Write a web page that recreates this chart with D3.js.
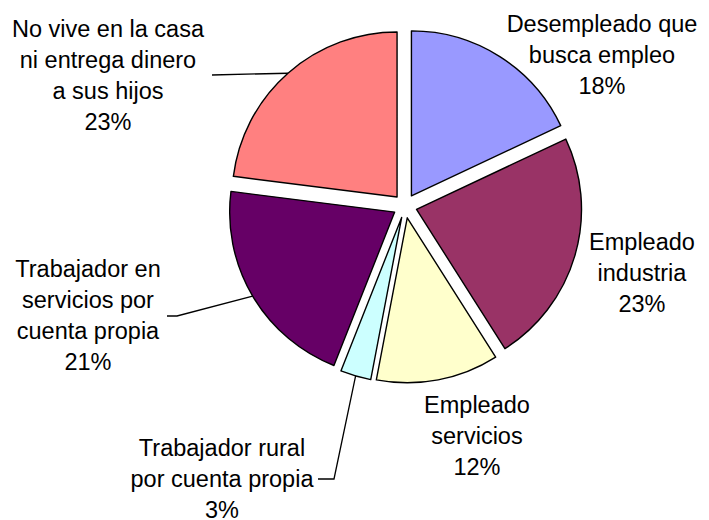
<!DOCTYPE html>
<html>
<head>
<meta charset="utf-8">
<script src="https://cdn.jsdelivr.net/npm/d3@7"></script>
<style>
	html, body { margin: 0; padding: 0; background: #fff; }
	svg { display: block; }
	text { font-family: Arial, "Liberation Sans", sans-serif; fill: #000; }
</style>
</head>
<body>
<script>
// slice data, clockwise from 12 o'clock
const categories = [
	'Desempleado que busca empleo',
	'Empleado industria',
	'Empleado servicios',
	'Trabajador rural por cuenta propia',
	'Trabajador en servicios por cuenta propia',
	'No vive en la casa ni entrega dinero a sus hijos'
];
const values = [18, 23, 12, 3, 21, 23];
const labelLines = [
	['Desempleado que', 'busca empleo'],
	['Empleado', 'industria'],
	['Empleado', 'servicios'],
	['Trabajador rural', 'por cuenta propia'],
	['Trabajador en', 'servicios por', 'cuenta propia'],
	['No vive en la casa', 'ni entrega dinero', 'a sus hijos']
];
const colors = ['#9999FF', '#993366', '#FFFFCC', '#CCFFFF', '#660066', '#FF8080'];

// label placement (x centre, first baseline) and leader elbows
const layout = [
	{ x: 602, y: 32 },
	{ x: 642, y: 250 },
	{ x: 477, y: 413 },
	{ x: 222, y: 456, elbow: [334, 479], end: [318, 479] },
	{ x: 88, y: 277, elbow: [177, 316], end: [167, 316] },
	{ x: 108, y: 37, elbow: [212, 75], end: [212, 75] }
];

const width = 709, height = 520;
const cx = 405, cy = 206, radius = 165, explode = 12;
const lineHeight = 31;

const svg = d3.select('body').append('svg')
	.attr('width', width)
	.attr('height', height);

const pie = d3.pie().sort(null).value(d => d)(values);
const arc = d3.arc().innerRadius(0).outerRadius(radius);

const mid = d => (d.startAngle + d.endAngle) / 2;
const offset = d => [explode * Math.sin(mid(d)), -explode * Math.cos(mid(d))];

const g = svg.append('g').attr('transform', `translate(${cx},${cy})`);

g.selectAll('path.slice')
	.data(pie)
	.enter().append('path')
	.attr('class', 'slice')
	.attr('transform', d => `translate(${offset(d)})`)
	.attr('d', arc)
	.style('fill', (d, i) => colors[i])
	.style('stroke', '#000')
	.style('stroke-width', 1.4)
	.style('stroke-linejoin', 'round');

// leader lines
pie.forEach((d, i) => {
	let l = layout[i];
	if (!l.elbow)
		return;
	let o = offset(d);
	let sx = cx + o[0] + radius * Math.sin(mid(d));
	let sy = cy + o[1] - radius * Math.cos(mid(d));
	svg.append('polyline')
		.attr('points', [[sx, sy], l.elbow, l.end].map(p => p.join(',')).join(' '))
		.style('fill', 'none')
		.style('stroke', '#000')
		.style('stroke-width', 1.3);
});

// labels
pie.forEach((d, i) => {
	let l = layout[i];
	let lines = labelLines[i].concat([values[i] + '%']);
	let t = svg.append('text')
		.attr('text-anchor', 'middle')
		.style('font-size', '23.5px');
	lines.forEach((s, k) => {
		t.append('tspan')
			.attr('x', l.x)
			.attr('y', l.y + k * lineHeight)
			.text(s);
	});
});
</script>
</body>
</html>
